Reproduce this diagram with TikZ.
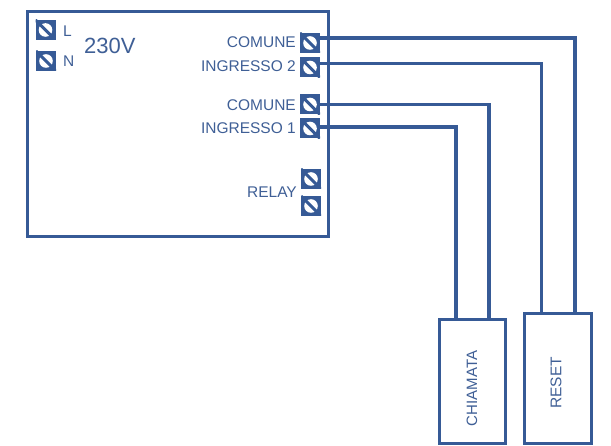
\documentclass[tikz,border=0pt]{standalone}
\usepackage{fontspec}
\setmainfont{Liberation Sans}
\definecolor{wireblue}{HTML}{365A96}
\definecolor{textblue}{HTML}{3F5F96}
\tikzset{
  panel/.style={draw=wireblue, line width=3pt, fill=white, inner sep=0pt},
  wire/.style={draw=wireblue, line width=3.5pt},
  screw/.style={fill=wireblue, minimum size=20pt, inner sep=0pt, path picture={
      \fill [white] (path picture bounding box.center) circle (6.8pt);
      \draw [wireblue, line width=3pt] (path picture bounding box.north west)
                                    -- (path picture bounding box.south east);}},
  lbl/.style={text=textblue, font=\fontsize{15.5}{15.5}\selectfont, inner sep=0pt}
}
\begin{document}
\begin{tikzpicture}[x=1pt, y=-1pt]
  \useasboundingbox (0, 0) rectangle (611, 446);
  \node [panel, minimum width=301pt, minimum height=225pt] (main) at (177.5, 124) {};
  \node [screw] (tL) at (45.5, 30) {};
  \node [screw] (tN) at (46, 61) {};
  \node [screw] (tComA) at (310, 43) {};
  \node [screw] (tIngB) at (310, 67.5) {};
  \node [screw] (tComB) at (310, 104.5) {};
  \node [screw] (tIngA) at (310, 128.5) {};
  \node [screw] (tRelA) at (311, 179) {};
  \node [screw] (tRelB) at (311, 206) {};
  \node [lbl, anchor=west] (lL) at (63, 31) {L};
  \node [lbl, anchor=west] (lN) at (63, 61) {N};
  \node [lbl, anchor=west, font=\fontsize{22}{22}\selectfont] (lV) at (84, 46) {230V};
  \node [lbl, anchor=east] (lComA) at (296, 42) {COMUNE};
  \node [lbl, anchor=east] (lIngB) at (296, 66) {INGRESSO 2};
  \node [lbl, anchor=east] (lComB) at (296, 105) {COMUNE};
  \node [lbl, anchor=east] (lIngA) at (296, 128.5) {INGRESSO 1};
  \node [lbl, anchor=east] (lRel) at (297, 192) {RELAY};
  \node [panel, minimum width=66pt, minimum height=124pt] (chiamata) at (472, 382) {};
  \node [panel, minimum width=67pt, minimum height=130pt] (reset) at (557.5, 379) {};
  \node [lbl, rotate=90, font=\fontsize{15}{15}\selectfont] (lChi) at (472, 388.5) {CHIAMATA};
  \node [lbl, rotate=90] (lRes) at (556, 383) {RESET};
  \coordinate (cChiA) at (456, 320);
  \coordinate (cChiB) at (489, 320);
  \coordinate (cResA) at (541.5, 314);
  \coordinate (cResB) at (575, 314);
  \draw [wire] ([yshift=5pt]tComA.east) -| (cResB);
  \draw [wire] ([yshift=4pt]tIngB.east) -| (cResA);
  \draw [wire] (tComB.east) -| (cChiB);
  \draw [wire] ([yshift=1.5pt]tIngA.east) -| (cChiA);
\end{tikzpicture}
\end{document}
